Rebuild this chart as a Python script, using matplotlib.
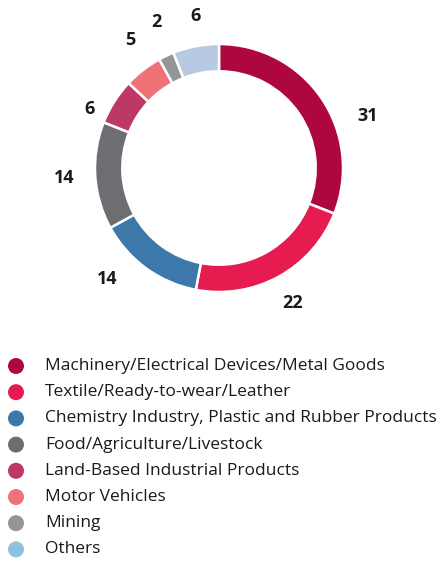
import numpy as np
import matplotlib
matplotlib.use("Agg")
import matplotlib.pyplot as plt

categories = [
    "Machinery/Electrical Devices/Metal Goods",
    "Textile/Ready-to-wear/Leather",
    "Chemistry Industry, Plastic and Rubber Products",
    "Food/Agriculture/Livestock",
    "Land-Based Industrial Products",
    "Motor Vehicles",
    "Mining",
    "Others",
]
values = [31, 22, 14, 14, 6, 5, 2, 6]
wedge_colors = ["#AE073E", "#E61B50", "#3C79AA", "#6D6E72",
                "#BD3862", "#EF7276", "#949598", "#B8CAE1"]
legend_colors = ["#AE073E", "#E61B50", "#3C79AA", "#6D6E72",
                 "#BD3862", "#EF7276", "#949598", "#8DC2DE"]
# label placement style (angle nudge in degrees, radial distance)
label_nudge = [-15, 0, -9, 0, 8, -3, -2, -2]
label_dist = [1.27, 1.24, 1.27, 1.25, 1.15, 1.26, 1.28, 1.24]

W, H, DPI = 441, 564, 100
fig = plt.figure(figsize=(W / DPI, H / DPI), dpi=DPI)

cx, cy_top, R = 219, 168, 124
ax = fig.add_axes([0, 0, 1, 1])
ax.axis("off")

wedges, _ = ax.pie(
    values, colors=wedge_colors, startangle=90, counterclock=False,
    radius=1.0,
    wedgeprops=dict(width=0.22, edgecolor="white", linewidth=1.8),
)
for w, v, nd, d in zip(wedges, values, label_nudge, label_dist):
    mid = np.deg2rad((w.theta1 + w.theta2) / 2 + nd)
    ax.text(d * np.cos(mid), d * np.sin(mid), str(v), fontsize=13,
            fontweight="bold", color="#1a1a1a", family="Open Sans",
            ha="center", va="center")

ax.set_xlim(-cx / R, (W - cx) / R)
ax.set_ylim(-(H - cy_top) / R, cy_top / R)
ax.set_aspect("auto")

y0 = 366
dy = 26.2
for i, (lab, col) in enumerate(zip(categories, legend_colors)):
    yy = 1 - (y0 + i * dy) / H
    fig.patches.append(matplotlib.patches.Ellipse(
        (16 / W, yy), 16 / W, 16 / H, transform=fig.transFigure,
        facecolor=col, edgecolor="none"))
    fig.text(45 / W, yy, lab, fontsize=12.5, family="Open Sans",
             color="#1a1a1a", ha="left", va="center")

fig.savefig("out.png", dpi=DPI)
